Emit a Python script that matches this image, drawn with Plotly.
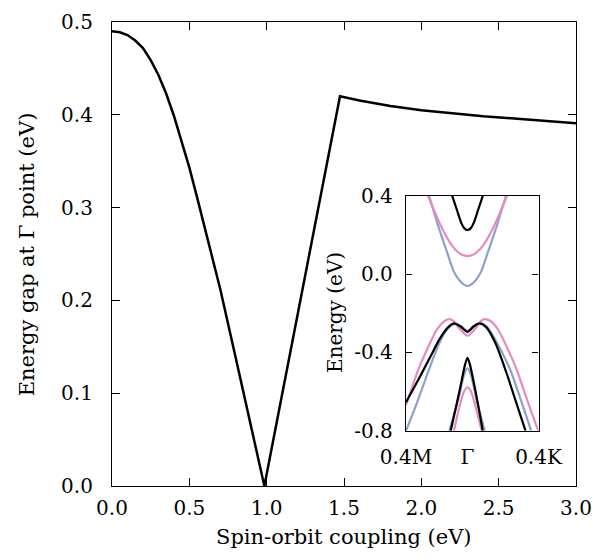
import plotly.graph_objects as go

# main panel: gap at Gamma vs spin-orbit coupling
soc = [0.0, 0.05, 0.1, 0.15, 0.2, 0.25, 0.3, 0.35, 0.4, 0.45, 0.5, 0.55, 0.6, 0.65,
       0.7, 0.8, 0.9, 0.985, 1.1, 1.2, 1.3, 1.4, 1.474, 1.6, 1.8, 2.0, 2.2,
       2.4, 2.6, 2.8, 3.0]
gap = [0.490, 0.489, 0.486, 0.480, 0.472, 0.459, 0.443, 0.423, 0.399, 0.372, 0.343,
       0.311, 0.278, 0.246, 0.212, 0.138, 0.063, 0.0, 0.099, 0.185, 0.271, 0.356,
       0.420, 0.4155, 0.4095, 0.405, 0.4015, 0.3985, 0.396, 0.3935, 0.391]

# inset: bands near Gamma (left = toward M, right = toward K)
GK = 0.4 * 1.1547  # 0.4 of Gamma-K in units of Gamma-M

# conduction bands
k_cb_black = [-0.100, -0.070, -0.040, -0.020, 0.0, 0.020, 0.040, 0.070, 0.100]
e_cb_black = [0.40, 0.330, 0.260, 0.233, 0.225, 0.233, 0.260, 0.330, 0.40]
k_cb_pink = [-0.257, -0.200, -0.160, -0.120, -0.080, -0.040, 0.0, 0.040, 0.080, 0.120, 0.160, 0.200, 0.257]
e_cb_pink = [0.40, 0.293, 0.225, 0.168, 0.125, 0.100, 0.092, 0.100, 0.125, 0.168, 0.225, 0.293, 0.40]
k_cb_blue = [-0.250, -0.190, -0.130, -0.090, -0.060, -0.030, 0.0, 0.030, 0.060, 0.090, 0.130, 0.190, 0.250]
e_cb_blue = [0.40, 0.245, 0.105, 0.015, -0.025, -0.050, -0.061, -0.050, -0.025, 0.015, 0.105, 0.245, 0.40]

# top valence bands (mexican hat)
k_vb_black = [-0.40, -0.32, -0.24, -0.18, -0.13, -0.088, -0.045, 0.0, 0.040, 0.077, 0.12, 0.18, 0.251, 0.31, 0.377]
e_vb_black = [-0.655, -0.54, -0.42, -0.33, -0.275, -0.252, -0.268, -0.295, -0.268, -0.252, -0.27, -0.35, -0.499, -0.64, -0.80]
k_vb_pink = [-0.40, -0.316, -0.26, -0.20, -0.15, -0.12, -0.095, -0.050, 0.0, 0.050, 0.090, 0.110, 0.15, 0.20, 0.26, 0.316, 0.38, 0.453, GK]
e_vb_pink = [-0.669, -0.48, -0.38, -0.285, -0.24, -0.230, -0.238, -0.280, -0.315, -0.280, -0.238, -0.230, -0.24, -0.285, -0.38, -0.48, -0.625, -0.785, -0.80]
k_vb_blue = [-0.40, -0.33, -0.27, -0.218, -0.17, -0.12, -0.08, -0.04, 0.0, 0.04, 0.08, 0.12, 0.17, 0.225, 0.283, 0.35, 0.414]
e_vb_blue = [-0.80, -0.66, -0.53, -0.42, -0.33, -0.272, -0.255, -0.268, -0.29, -0.265, -0.250, -0.265, -0.32, -0.40, -0.499, -0.65, -0.80]

# lower valence bands
k_lb_black = [-0.109, -0.050, -0.015, 0.0, 0.015, 0.050, 0.099]
e_lb_black = [-0.80, -0.59, -0.46, -0.428, -0.46, -0.59, -0.80]
k_lb_blue = [-0.118, -0.060, -0.020, 0.0, 0.020, 0.060, 0.112]
e_lb_blue = [-0.80, -0.64, -0.51, -0.481, -0.51, -0.645, -0.80]
k_lb_pink = [-0.088, -0.050, -0.020, 0.0, 0.020, 0.050, 0.092]
e_lb_pink = [-0.80, -0.67, -0.595, -0.578, -0.595, -0.67, -0.80]

inset_yticks = [-0.8, -0.4, 0.0, 0.4]
inset_yticktext = ["-0.8", "-0.4", "0.0", "0.4"]

BLACK = "black"
PINK = "#e78ac3"
BLUE = "#8da0cb"
FONT = "DejaVu Serif"

fig = go.Figure()

fig.add_trace(go.Scatter(x=soc, y=gap, mode="lines",
                         line=dict(color=BLACK, width=2.5), xaxis="x", yaxis="y"))

bands = [
    (k_cb_blue, e_cb_blue, BLUE), (k_vb_blue, e_vb_blue, BLUE), (k_lb_blue, e_lb_blue, BLUE),
    (k_cb_pink, e_cb_pink, PINK), (k_vb_pink, e_vb_pink, PINK), (k_lb_pink, e_lb_pink, PINK),
    (k_cb_black, e_cb_black, BLACK), (k_vb_black, e_vb_black, BLACK), (k_lb_black, e_lb_black, BLACK),
]
for k, e, c in bands:
    fig.add_trace(go.Scatter(x=k, y=e, mode="lines", line=dict(color=c, width=2.2, shape="spline", smoothing=0.8),
                             xaxis="x2", yaxis="y2"))

# Gamma line
fig.add_shape(type="line", xref="x2", yref="y2 domain", x0=0, x1=0, y0=0, y1=1,
              line=dict(color="black", width=1.3), layer="below")

axis_common = dict(showline=True, linecolor="black", linewidth=1.3, mirror="ticks",
                   ticks="inside", tickcolor="black", tickwidth=1.3, showgrid=False,
                   zeroline=False, automargin=False)

fig.update_layout(
    width=594, height=560,
    margin=dict(l=0, r=0, t=0, b=0),
    paper_bgcolor="white", plot_bgcolor="white",
    showlegend=False,
    font=dict(family=FONT, size=21, color="black"),
    xaxis=dict(domain=[0.1886, 0.9697], range=[0, 3], tickvals=[0, 0.5, 1, 1.5, 2, 2.5, 3],
               tickformat=".1f", ticklen=8, ticklabelstandoff=4, tickfont=dict(size=20),
               **axis_common),
    yaxis=dict(domain=[0.1321, 0.9607], range=[0, 0.5], tickvals=[0, 0.1, 0.2, 0.3, 0.4, 0.5],
               tickformat=".1f", ticklen=8, ticklabelstandoff=14, tickfont=dict(size=20),
               **axis_common),
    xaxis2=dict(domain=[0.6835, 0.9066], range=[-0.4, GK], anchor="y2",
                tickvals=[-0.4, 0, GK], ticktext=["0.4M", "Γ", "0.4K"], ticklen=0,
                tickfont=dict(size=20), ticklabelstandoff=8, **axis_common),
    yaxis2=dict(domain=[0.2309, 0.6505], range=[-0.8, 0.4], anchor="x2",
                tickvals=inset_yticks, ticktext=inset_yticktext, ticklen=6,
                tickfont=dict(size=20), ticklabelstandoff=8, **axis_common),
    annotations=[
        dict(text="Spin-orbit coupling (eV)", xref="paper", yref="paper", x=0.5791, y=0.041,
             xanchor="center", yanchor="middle", showarrow=False),
        dict(text="Energy gap at Γ point (eV)", xref="paper", yref="paper", x=0.046, y=0.5464,
             xanchor="center", yanchor="middle", textangle=-90, showarrow=False),
        dict(text="Energy (eV)", xref="paper", yref="paper", x=0.564, y=0.441,
             xanchor="center", yanchor="middle", textangle=-90, showarrow=False,
             font=dict(size=20)),
    ],
)

# drop the default page margin so the 594x560 figure fills the window
fig.write_html("out.html", config={"displayModeBar": False},
               post_script="document.body.style.margin='0';document.body.style.overflow='hidden';")
